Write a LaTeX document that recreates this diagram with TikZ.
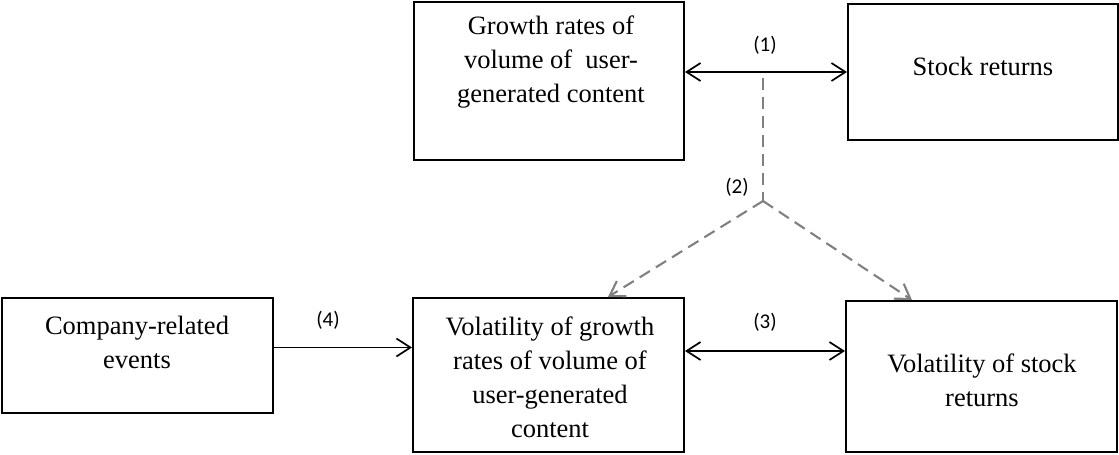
\documentclass[tikz,border=0pt]{standalone}
\usepackage{fontspec}
\setmainfont{Liberation Serif}
\newfontfamily\labfont{Carlito}
\usetikzlibrary{arrows.meta,calc}
\definecolor{dashgray}{RGB}{128,128,128}
\tikzset{barb/.tip={Straight Barb[length=14pt,width=18pt]}}
\begin{document}
\begin{tikzpicture}[x=1pt,y=-1pt,
  box/.style={draw=black,line width=2pt,inner sep=0pt,rectangle},
  txt/.style={font=\fontsize{26.5}{34}\selectfont,align=center,inner sep=0pt,anchor=base},
  lab/.style={font=\labfont\fontsize{21}{24}\selectfont,inner sep=0pt},
  conn/.style={line width=1.7pt},
  dconn/.style={line width=2.1pt,draw=dashgray,dash pattern=on 12pt off 7pt}]
\useasboundingbox (0,0) rectangle (1119,455);
% boxes
\node[box,minimum width=270pt,minimum height=158pt] (A) at (549,81) {};
\node[box,minimum width=270pt,minimum height=136pt] (B) at (983,72) {};
\node[box,minimum width=271pt,minimum height=115pt] (E) at (137.5,355.5) {};
\node[box,minimum width=271pt,minimum height=154pt] (D) at (548.5,375) {};
\node[box,minimum width=271pt,minimum height=151pt] (C) at (981.5,376.5) {};
% texts (anchored at the baseline of their last line)
\node[txt] (tA) at (551,102) {Growth rates of\\volume of\ \ user-\\generated content};
\node[txt] (tB) at (983,75) {Stock returns};
\node[txt] (tE) at (137,368) {Company-related\\events};
\node[txt] (tD) at (550,437) {Volatility of growth\\rates of volume of\\user-generated\\content};
\node[txt] (tC) at (982,406) {Volatility of stock\\returns};
% labels
\node[lab] (l1) at (765,45) {(1)};
\node[lab] (l2) at (737,187) {(2)};
\node[lab] (l3) at (765,322) {(3)};
\node[lab] (l4) at (328,320) {(4)};
% helper coordinates
\coordinate (r1) at (0,72);
\coordinate (r3) at (0,351);
\coordinate (r4) at (0,347.5);
\coordinate (top) at (763,78);
\coordinate (j) at (763,201);
\coordinate (tl) at (608,0);
\coordinate (tr) at (912,0);
% connectors
\draw[conn,barb-barb] (A.east |- r1) -- (B.west |- r1);
\draw[conn,barb-barb] (D.east |- r3) -- (C.west |- r3);
\draw[conn,-barb] (E.east |- r4) -- (D.west |- r4);
\draw[dconn] (top) -- (j);
\draw[dconn,-barb] (j) -- (tl |- D.north);
\draw[dconn,-barb] (j) -- (tr |- C.north);
\end{tikzpicture}
\end{document}
